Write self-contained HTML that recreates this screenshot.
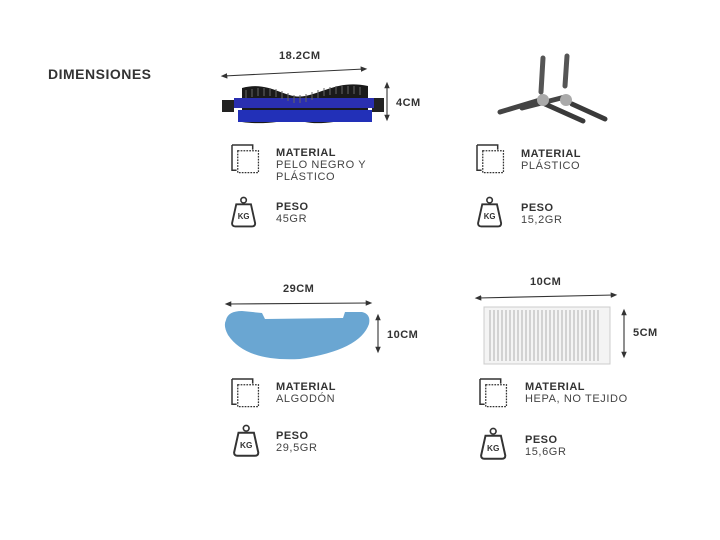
<!DOCTYPE html>
<html><head><meta charset="utf-8"><style>
body{margin:0;width:720px;height:540px;background:#fff;position:relative;overflow:hidden;font-family:"Liberation Sans",sans-serif;color:#333}
.t{position:absolute;font-size:11px;line-height:12px;white-space:nowrap}
.b{font-weight:bold;letter-spacing:0.5px}
.r{letter-spacing:0.6px;color:#444}
svg{position:absolute;left:0;top:0}
</style></head><body>
<svg width="720" height="540" viewBox="0 0 720 540">
<defs>
<marker id="a" markerWidth="6" markerHeight="6" refX="3" refY="3" orient="auto-start-reverse"><path d="M0,0.5 L6,3 L0,5.5 z" fill="#333"/></marker>
<g id="mat"><path d="M0,0 h18 v4 M0,0 v22 h4" fill="none" stroke="#333" stroke-width="1.3"/><rect x="5" y="5" width="18" height="19" fill="#fff" stroke="#333" stroke-width="1.1" stroke-dasharray="1.5 1"/></g>
<g id="kg"><circle cx="12" cy="3" r="2.6" fill="none" stroke="#333" stroke-width="1.5"/><path d="M5,7 h14 l4,18 q0,3 -3,3 h-16 q-3,0 -3,-3 z" fill="none" stroke="#333" stroke-width="1.8"/><text x="12" y="21" font-size="7.5" font-weight="bold" text-anchor="middle" fill="#333" font-family="Liberation Sans">KG</text></g>
</defs>
<g stroke="#333" stroke-width="1.1" fill="none">
<line x1="224" y1="76" x2="364" y2="69" marker-start="url(#a)" marker-end="url(#a)"/>
<line x1="387" y1="85" x2="387" y2="118" marker-start="url(#a)" marker-end="url(#a)"/>
<line x1="228" y1="304" x2="369" y2="303" marker-start="url(#a)" marker-end="url(#a)"/>
<line x1="378" y1="317" x2="378" y2="350" marker-start="url(#a)" marker-end="url(#a)"/>
<line x1="478" y1="298" x2="614" y2="295" marker-start="url(#a)" marker-end="url(#a)"/>
<line x1="624" y1="312" x2="624" y2="355" marker-start="url(#a)" marker-end="url(#a)"/>
</g>
<rect x="222" y="100" width="12" height="12" fill="#222"/>
<rect x="372" y="98" width="12" height="14" fill="#222"/>
<path d="M242,88 C270,80 285,100 305,96 C325,92 340,80 368,86 L368,122 C340,118 325,126 305,122 C285,118 270,126 242,122 Z" fill="#1a1a1a"/>
<path d="M234,98 h140 v10 h-140 z" fill="#2a2fb0"/>
<rect x="238" y="110" width="134" height="12" fill="#2230b8"/>
<g stroke="#666" stroke-width="1">
<path d="M246,90v8M252,89v8M258,88v8M264,88v8M270,88v8M276,89v8M282,91v8M288,93v8M294,95v8M300,95v8M306,94v8M312,92v8M318,90v8M324,88v8M330,87v8M336,86v8M342,86v8M348,86v8M354,86v8M360,87v8"/>
</g>
<g stroke-linecap="round">
<path d="M543,58 L541,92" stroke="#555" stroke-width="5"/>
<path d="M567,56 L565,86" stroke="#555" stroke-width="5"/>
<path d="M540,100 L500,112" stroke="#444" stroke-width="5"/>
<path d="M565,97 L522,108" stroke="#444" stroke-width="5"/>
<path d="M545,104 L583,121" stroke="#3a3a3a" stroke-width="5"/>
<path d="M572,104 L605,119" stroke="#3a3a3a" stroke-width="5"/>
</g>
<circle cx="543" cy="100" r="6" fill="#aaa"/><circle cx="566" cy="100" r="6" fill="#aaa"/>
<path d="M226,320 Q228,311 242,311 L262,313 L265,319 L343,318 L345,312 L362,312 Q371,314 369,324 Q360,350 300,359 Q246,362 228,335 Q223,326 226,320 Z" fill="#6aa6d2"/>
<rect x="484" y="307" width="126" height="57" fill="#f4f4f4" stroke="#ccc"/>
<g stroke="#bbb" stroke-width="1.2">
<path d="M490,310v51M494,310v51M498,310v51M502,310v51M506,310v51M510,310v51M514,310v51M518,310v51M522,310v51M526,310v51M530,310v51M534,310v51M538,310v51M542,310v51M546,310v51M550,310v51M554,310v51M558,310v51M562,310v51M566,310v51M570,310v51M574,310v51M578,310v51M582,310v51M586,310v51M590,310v51M594,310v51M598,310v51"/>
</g>
<use href="#mat" transform="translate(232,145) scale(1.15)"/><use href="#kg" transform="translate(231,197) scale(1.05)"/>
<use href="#mat" transform="translate(477,145) scale(1.15)"/><use href="#kg" transform="translate(477,197) scale(1.05)"/>
<use href="#mat" transform="translate(232,379) scale(1.15)"/><use href="#kg" transform="translate(233,425) scale(1.1)"/>
<use href="#mat" transform="translate(480,379) scale(1.15)"/><use href="#kg" transform="translate(480,428) scale(1.1)"/>
</svg>
<div class="t b" style="left:48px;top:66px;font-size:14px;line-height:16px">DIMENSIONES</div>
<div class="t b" style="left:279px;top:50px">18.2CM</div>
<div class="t b" style="left:396px;top:97px">4CM</div>
<div class="t b" style="left:276px;top:147px">MATERIAL</div>
<div class="t r" style="left:276px;top:159px">PELO NEGRO Y</div>
<div class="t r" style="left:276px;top:171px">PLÁSTICO</div>
<div class="t b" style="left:276px;top:201px">PESO</div>
<div class="t r" style="left:276px;top:213px">45GR</div>
<div class="t b" style="left:521px;top:148px">MATERIAL</div>
<div class="t r" style="left:521px;top:160px">PLÁSTICO</div>
<div class="t b" style="left:521px;top:202px">PESO</div>
<div class="t r" style="left:521px;top:214px">15,2GR</div>
<div class="t b" style="left:283px;top:283px">29CM</div>
<div class="t b" style="left:387px;top:329px">10CM</div>
<div class="t b" style="left:276px;top:381px">MATERIAL</div>
<div class="t r" style="left:276px;top:393px">ALGODÓN</div>
<div class="t b" style="left:276px;top:430px">PESO</div>
<div class="t r" style="left:276px;top:442px">29,5GR</div>
<div class="t b" style="left:530px;top:276px">10CM</div>
<div class="t b" style="left:633px;top:327px">5CM</div>
<div class="t b" style="left:525px;top:381px">MATERIAL</div>
<div class="t r" style="left:525px;top:393px">HEPA, NO TEJIDO</div>
<div class="t b" style="left:525px;top:434px">PESO</div>
<div class="t r" style="left:525px;top:446px">15,6GR</div>
</body></html>
